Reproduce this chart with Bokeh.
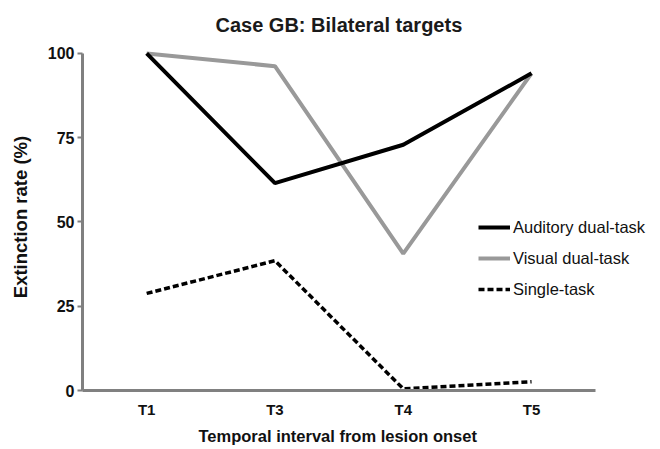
from bokeh.plotting import figure
from bokeh.models import FixedTicker, Legend, LegendItem, Title
from bokeh.embed import file_html
from bokeh.resources import INLINE

categories = ["T1", "T3", "T4", "T5"]
auditory = [100, 61.5, 72.9, 94.1]
visual = [100, 96.2, 40.6, 94.1]
single = [28.8, 38.5, 0.5, 2.6]
y_ticks = [0, 25, 50, 75, 100]

xs = list(range(len(categories)))

# frame spans a bit beyond the axes so the legend text and the lines at 100
# are not clipped; the axis lines themselves are bounded
p = figure(width=660, height=449, output_backend="svg", toolbar_location=None,
           x_range=(-0.5, 4.005), y_range=(0, 102.94),
           min_border_left=82, min_border_right=0, min_border_top=43, min_border_bottom=56)
p.title = Title(text="Case GB: Bilateral targets", align="left",
                text_font="Liberation Sans", text_font_size="20px", text_font_style="bold",
                text_color="#1a1a1a", offset=133, standoff=16)
p.grid.visible = False
p.outline_line_color = None
p.background_fill_color = "white"

for ax in (p.xaxis[0], p.yaxis[0]):
    ax.axis_line_color = "#808080"
    ax.axis_line_width = 3
    ax.major_tick_line_color = "#808080"
    ax.major_tick_line_width = 2
    ax.major_tick_out = 5
    ax.major_tick_in = 0
    ax.minor_tick_line_color = None
    ax.major_label_text_font = "Liberation Sans"
    ax.major_label_text_font_style = "bold"
    ax.major_label_text_color = "#111111"
    ax.axis_label_text_font = "Liberation Sans"
    ax.axis_label_text_font_style = "bold"
    ax.axis_label_text_color = "#111111"

p.yaxis.ticker = FixedTicker(ticks=y_ticks)
p.yaxis.bounds = (0, 100)
p.yaxis.major_label_text_font_size = "16px"
p.yaxis.major_label_standoff = 3
p.yaxis.axis_label = "Extinction rate (%)"
p.yaxis.axis_label_text_font_size = "18.5px"
p.yaxis.axis_label_standoff = 14

p.xaxis.ticker = FixedTicker(ticks=xs)
p.xaxis.bounds = (-0.5, 3.5)
p.xaxis.major_label_overrides = {i: c for i, c in enumerate(categories)}
p.xaxis.major_label_text_font_size = "15px"
p.xaxis.major_tick_line_color = None
p.xaxis.major_tick_out = 0
p.xaxis.major_label_standoff = 10

# x axis title, centred under the bounded axis line
xlabel = Title(text="Temporal interval from lesion onset", align="left",
               text_font="Liberation Sans", text_font_size="16.5px", text_font_style="bold",
               text_color="#111111", offset=116, standoff=9)
p.add_layout(xlabel, "below")

r_s = p.line(xs, single, line_color="black", line_width=3.5, line_dash="6 3")
r_v = p.line(xs, visual, line_color="#999999", line_width=4)
r_a = p.line(xs, auditory, line_color="black", line_width=4)

legend = Legend(items=[LegendItem(label="Auditory dual-task", renderers=[r_a]),
                       LegendItem(label="Visual dual-task", renderers=[r_v]),
                       LegendItem(label="Single-task", renderers=[r_s])],
                location=(396, 91), orientation="vertical",
                background_fill_alpha=0, border_line_color=None,
                label_text_font="Liberation Sans", label_text_font_size="16.5px",
                label_text_color="#111111",
                glyph_width=32, glyph_height=20, label_height=20,
                label_standoff=3, spacing=11, padding=0, margin=0)
p.add_layout(legend, "center")

open("out.html", "w").write(file_html(p, INLINE))
